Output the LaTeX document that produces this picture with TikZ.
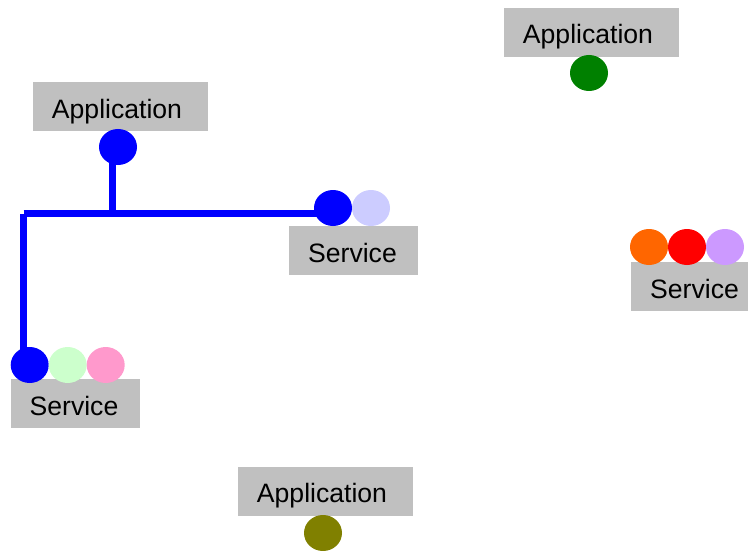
\documentclass[tikz,border=0pt]{standalone}
\usepackage{fontspec}
\setmainfont{Liberation Sans}
\usetikzlibrary{shapes.geometric,backgrounds}
\definecolor{boxgray}{HTML}{C0C0C0}
\definecolor{pblue}{HTML}{0000FF}
\definecolor{plightblue}{HTML}{CCCCFF}
\definecolor{plightgreen}{HTML}{CCFFCC}
\definecolor{ppink}{HTML}{FF99CC}
\definecolor{porange}{HTML}{FF6600}
\definecolor{pred}{HTML}{FF0000}
\definecolor{plavender}{HTML}{CC99FF}
\definecolor{pgreen}{HTML}{008000}
\definecolor{polive}{HTML}{808000}
\tikzset{
  box/.style={rectangle, fill=boxgray, inner sep=0pt, text height=23pt, text depth=0pt,
    font=\fontsize{26.6pt}{32pt}\selectfont},
  appbox/.style={box, minimum width=175pt, minimum height=49pt},
  svcbox/.style={box, minimum width=129pt, minimum height=49pt},
  port/.style={ellipse, fill=#1, inner sep=0pt, minimum width=38pt, minimum height=36pt},
  wire/.style={draw=pblue, line width=7pt, line cap=butt}
}
\begin{document}
\begin{tikzpicture}[x=1pt, y=-1pt]
\clip (0,0) rectangle (748,551);

% applications
\node[appbox] (app1) at (120.5,106.5) {Application\kern7pt};
\node[appbox] (app2) at (591.5,32.5) {Application\kern7pt};
\node[appbox] (app3) at (325.5,491) {Application\kern7pt};
\node[port=pblue] (a1p) at (118,147) {};
\node[port=pgreen] (a2p) at (589,73) {};
\node[port=polive] (a3p) at (323,533) {};

% services
\node[svcbox] (svc1) at (353.5,250.5) {Service\kern2pt};
\node[svcbox] (svc2) at (75.5,403.5) {Service\kern3pt};
\node[svcbox] (svc3) at (695.5,286.5) {Service\kern2pt};

\node[port=pblue] (s1a) at (333,208) {};
\node[port=plightblue] (s1b) at (371,208) {};

\node[port=pblue] (s2a) at (29.7,365) {};
\node[port=plightgreen] (s2b) at (67.7,365) {};
\node[port=ppink] (s2c) at (105.7,365) {};

\node[port=porange] (s3a) at (649,247) {};
\node[port=pred] (s3b) at (687,247) {};
\node[port=plavender] (s3c) at (725,247) {};

% connection from the application to both services
\coordinate (j1) at (112.5,213.5);
\coordinate (j2) at (23.5,213.5);
\begin{scope}[on background layer]
  \draw[wire] (j1 |- a1p) -- (j1);
  \draw[wire] (j2) -- (j2 -| s1a);
  \draw[wire] (j2) -- (j2 |- s2a);
\end{scope}
\end{tikzpicture}
\end{document}
